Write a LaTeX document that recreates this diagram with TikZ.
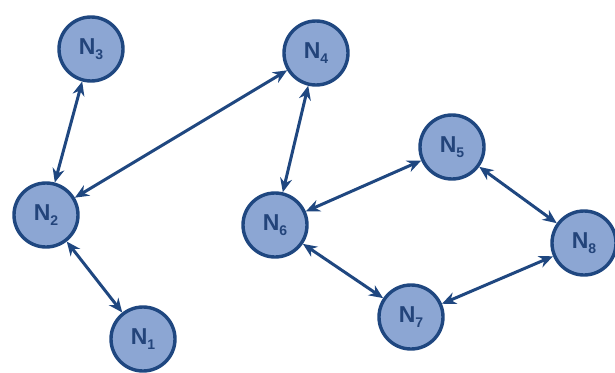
\documentclass[tikz,border=0pt]{standalone}
\usepackage{fontspec}
\setmainfont{Liberation Sans}
\usetikzlibrary{arrows.meta}
\definecolor{nfill}{HTML}{8CA6D3}
\definecolor{nedge}{HTML}{1F4780}
\definecolor{ntext}{HTML}{23447A}
\tikzset{
  netnode/.style={circle, draw=nedge, line width=3.4pt, fill=nfill, minimum size=64pt, inner sep=0pt, text=ntext, font=\bfseries\fontsize{23}{23}\selectfont},
  link/.style={draw=nedge, line width=3pt, {Stealth[length=14pt,width=12pt]}-{Stealth[length=14pt,width=12pt]}}
}
\newcommand{\nlab}[1]{N\raisebox{-5pt}{\fontsize{14}{14}\selectfont #1}}
\begin{document}
\begin{tikzpicture}[x=1pt,y=-1pt]
\useasboundingbox (0,0) rectangle (615,372);
\node[netnode] (n3) at (91,49) {\nlab{3}};
\node[netnode] (n4) at (316,53) {\nlab{4}};
\node[netnode] (n2) at (46,215) {\nlab{2}};
\node[netnode] (n1) at (143,339) {\nlab{1}};
\node[netnode] (n5) at (452,147) {\nlab{5}};
\node[netnode] (n6) at (275,225) {\nlab{6}};
\node[netnode] (n8) at (584,243) {\nlab{8}};
\node[netnode] (n7) at (411,317) {\nlab{7}};
\draw[link] (n3) -- (n2);
\draw[link] (n2) -- (n4);
\draw[link] (n2) -- (n1);
\draw[link] (n4) -- (n6);
\draw[link] (n6) -- (n5);
\draw[link] (n5) -- (n8);
\draw[link] (n6) -- (n7);
\draw[link] (n7) -- (n8);
\end{tikzpicture}
\end{document}
